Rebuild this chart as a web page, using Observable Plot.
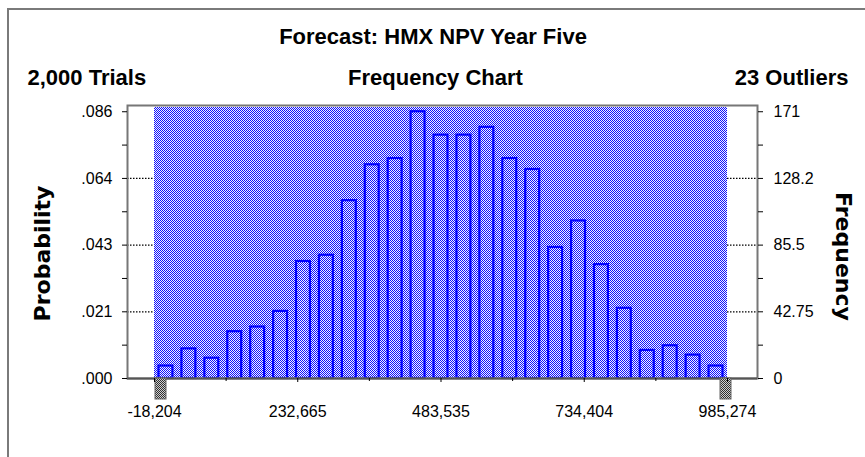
<!DOCTYPE html>
<html>
<head>
<meta charset="utf-8">
<script src="https://cdn.jsdelivr.net/npm/d3@7"></script>
<script src="https://cdn.jsdelivr.net/npm/@observablehq/plot@0.6"></script>
<style>
  html, body { margin: 0; padding: 0; background: #fff; overflow: hidden; }
  #wrap { position: relative; width: 865px; height: 457px; overflow: hidden; }
  #border { position: absolute; left: 7px; top: 8px; width: 900px; height: 500px;
            border-left: 2px solid #7a7a7a; border-top: 2px solid #7a7a7a; pointer-events: none; }
  #chart { position: absolute; left: 0; top: 0; }
</style>
</head>
<body>
<div id="wrap"><div id="chart"></div><div id="border"></div></div>
<script>
// ---- data ----
const title = "Forecast: HMX NPV Year Five";
const subtitleLeft = "2,000 Trials";
const subtitleMid = "Frequency Chart";
const subtitleRight = "23 Outliers";
const trials = 2000;
const rangeMin = -18204;
const rangeMax = 985274;
const frequencies = [8, 19, 13, 30, 33, 43, 75, 79, 114, 137, 141, 171, 156, 156, 161, 141, 134, 84, 101, 73, 45, 18, 21, 15, 8];
const xTickValues = [-18204, 232665, 483535, 734404, 985274];
const xTickLabels = ["-18,204", "232,665", "483,535", "734,404", "985,274"];
const yTickValues = [0, 42.75, 85.5, 128.25, 171];
const probLabels = [".000", ".021", ".043", ".064", ".086"];
const freqLabels = ["0", "42.75", "85.5", "128.2", "171"];
const yDomainMax = 175;

// ---- derived tables ----
const nb = frequencies.length;
const step = (rangeMax - rangeMin) / nb;
const bins = frequencies.map((f, i) => ({x1: rangeMin + i * step, x2: rangeMin + (i + 1) * step, freq: f}));
const xMinor = xTickValues.slice(1).map((v, i) => (v + xTickValues[i]) / 2);
const yMinor = yTickValues.slice(1).map((v, i) => (v + yTickValues[i]) / 2);
const gridValues = yTickValues.slice(1, -1);
const probMap = new Map(yTickValues.map((v, i) => [v, probLabels[i]]));
const freqMap = new Map(yTickValues.map((v, i) => [v, freqLabels[i]]));
const xLabMap = new Map(xTickValues.map((v, i) => [v, xTickLabels[i]]));

const svg = Plot.plot({
  width: 865,
  height: 457,
  marginLeft: 127,
  marginRight: 108,
  marginTop: 105,
  marginBottom: 79,
  style: {fontFamily: "'Liberation Sans', Arial, sans-serif", background: "#fff", color: "#000"},
  x: {domain: [rangeMin, rangeMax], range: [154, 727]},
  y: {domain: [0, yDomainMax]},
  marks: [
    Plot.ruleY(gridValues, {stroke: "#000", strokeWidth: 1.2, strokeDasharray: "1.5,1.5"}),
    Plot.rect([{a: rangeMin, b: rangeMax}], {x1: "a", x2: "b", y1: 0, y2: yDomainMax, insetTop: 2, fill: "url(#blueDither)"}),
    Plot.rect(bins, {x1: "x1", x2: "x2", y1: 0, y2: "freq", insetLeft: 4.5, insetRight: 4.5, fill: "none", stroke: "#0000ff", strokeWidth: 2.2}),
    Plot.frame({stroke: "#777", strokeWidth: 2}),
    Plot.ruleY([0], {stroke: "#555", strokeWidth: 2}),
    // certainty grabbers
    Plot.rect([rangeMin], {x1: d => d, x2: d => d, y1: 0, y2: 0, insetLeft: 1, insetRight: -12, insetBottom: -21, fill: "url(#greyDither)", stroke: "#666", strokeWidth: 1}),
    Plot.rect([rangeMax], {x1: d => d, x2: d => d, y1: 0, y2: 0, insetLeft: -7, insetRight: -4, insetBottom: -21, fill: "url(#greyDither)", stroke: "#666", strokeWidth: 1}),
    // axes
    Plot.axisY(yTickValues, {anchor: "left", tickSize: 5, tickPadding: 10, fontSize: 16, tickFormat: d => probMap.get(d), label: null}),
    Plot.axisY(yMinor, {anchor: "left", tickSize: 5, tickFormat: () => "", label: null}),
    Plot.axisY(yTickValues, {anchor: "right", tickSize: 5, tickPadding: 11, fontSize: 16, tickFormat: d => freqMap.get(d), label: null}),
    Plot.axisY(yMinor, {anchor: "right", tickSize: 5, tickFormat: () => "", label: null}),
    Plot.axisX(xTickValues, {anchor: "bottom", tickSize: 4, tickPadding: 23, fontSize: 16, tickFormat: d => xLabMap.get(d), label: null}),
    Plot.axisX(xMinor, {anchor: "bottom", tickSize: 3, tickFormat: () => "", label: null}),
    // titles
    Plot.text([title], {text: d => d, frameAnchor: "top", dx: -9.5, dy: -68.5, lineAnchor: "middle", fontSize: 22, fontWeight: "bold"}),
    Plot.text([subtitleLeft], {text: d => d, frameAnchor: "top-left", dx: -100, dy: -28, textAnchor: "start", lineAnchor: "middle", fontSize: 22, fontWeight: "bold"}),
    Plot.text([subtitleMid], {text: d => d, frameAnchor: "top", dx: -7, dy: -28, lineAnchor: "middle", fontSize: 22, fontWeight: "bold"}),
    Plot.text([subtitleRight], {text: d => d, frameAnchor: "top-right", dx: 91, dy: -28, textAnchor: "end", lineAnchor: "middle", fontSize: 22, fontWeight: "bold"}),
    Plot.text(["Probability"], {text: d => d, frameAnchor: "left", dx: -85, dy: 11.5, rotate: -90, textAnchor: "middle", lineAnchor: "middle", fontSize: 22, fontWeight: "bold", fontFamily: "'DejaVu Sans', Verdana, sans-serif"}),
    Plot.text(["Frequency"], {text: d => d, frameAnchor: "right", dx: 86, dy: 14.5, rotate: 90, textAnchor: "middle", lineAnchor: "middle", fontSize: 22, fontWeight: "bold", fontFamily: "'DejaVu Sans', Verdana, sans-serif"})
  ]
});

// patterns used as fills
const defs = d3.select(svg).insert("defs", ":first-child");
const p1 = defs.append("pattern").attr("id", "blueDither").attr("patternUnits", "userSpaceOnUse").attr("width", 2).attr("height", 2);
p1.append("rect").attr("width", 2).attr("height", 2).attr("fill", "#f4f4ff");
p1.append("rect").attr("width", 1).attr("height", 1).attr("fill", "#1010ff");
p1.append("rect").attr("x", 1).attr("y", 1).attr("width", 1).attr("height", 1).attr("fill", "#1010ff");
const p2 = defs.append("pattern").attr("id", "greyDither").attr("patternUnits", "userSpaceOnUse").attr("width", 2).attr("height", 2);
p2.append("rect").attr("width", 2).attr("height", 2).attr("fill", "#d0d0d0");
p2.append("rect").attr("width", 1).attr("height", 1).attr("fill", "#303030");
p2.append("rect").attr("x", 1).attr("y", 1).attr("width", 1).attr("height", 1).attr("fill", "#303030");

document.getElementById("chart").appendChild(svg);
</script>
</body>
</html>
